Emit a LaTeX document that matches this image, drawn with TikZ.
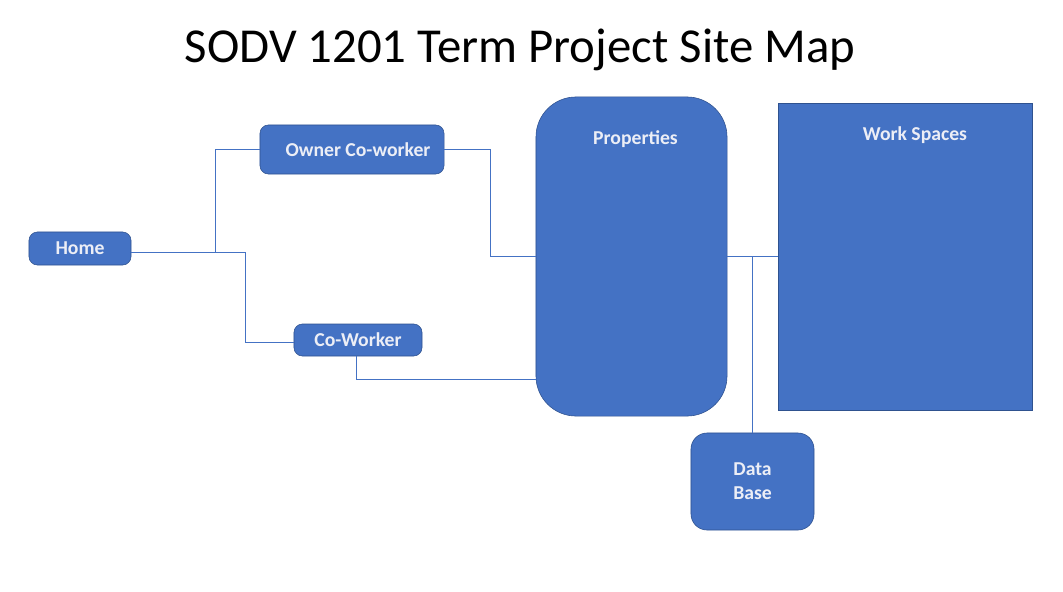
\documentclass[tikz,border=0pt]{standalone}
\usepackage{fontspec}
\setmainfont{Carlito}
\usetikzlibrary{calc}
\definecolor{pageblue}{RGB}{68,114,196}
\definecolor{pageedge}{RGB}{47,82,143}
\definecolor{pagetext}{RGB}{236,238,246}

\begin{document}
\begin{tikzpicture}[
    x=0.025cm, y=-0.025cm,
    page/.style={draw=pageedge, fill=pageblue, rounded corners=6pt, align=center, text=pagetext, font=\fontsize{14}{17}\selectfont\bfseries, inner sep=0pt},
    link/.style={draw=pageblue, line width=0.7pt}
]
\useasboundingbox (0,0) rectangle (1063,591);

% Title
\node[font=\fontsize{34.7}{38}\selectfont] (title) at (520,50) {SODV 1201 Term Project Site Map};

% Pages of the site
\node[page, minimum width=2.55cm, minimum height=0.825cm] (home) at (80,248.5) {Home};
\node[page, minimum width=4.6cm, minimum height=1.225cm] (owner) at (352,149.5) {\hspace*{0.3cm}Owner Co-worker};
\node[page, minimum width=3.2cm, minimum height=0.8cm] (cowork) at (358,340) {Co-Worker};
\node[page, rounded corners=1cm, minimum width=4.775cm, minimum height=7.975cm,
      label={[text=pagetext, font=\fontsize{14}{17}\selectfont\bfseries, anchor=center, yshift=-1.05cm, xshift=0.1cm]north:Properties}] (props) at (631.5,256.5) {};
\node[page, rounded corners=0pt, minimum width=6.35cm, minimum height=7.675cm,
      label={[text=pagetext, font=\fontsize{14}{17}\selectfont\bfseries, anchor=center, yshift=-0.8cm, xshift=0.25cm]north:Work Spaces}] (work) at (905,256.5) {};
\node[page, rounded corners=0.4cm, minimum width=3.075cm, minimum height=2.425cm] (db) at (752.5,481.5) {Data\\Base};

% Links
\draw[link] ($(home.east)+(0,3.5)$) -- ++(84,0) coordinate (split) |- (owner.west);
\draw[link] (split) -- ++(30,0) |- ($(cowork.west)+(0,2)$);
\draw[link] (owner.east) -- ++(46,0) |- (props.west);
\draw[link] ($(cowork.south)+(-2,0)$) |- ($(props.south west)+(0,-37)$);
\draw[link] (props.east) -- (work.west);
\draw[link] (db.north) -- (db.north |- props.east);

\end{tikzpicture}
\end{document}
